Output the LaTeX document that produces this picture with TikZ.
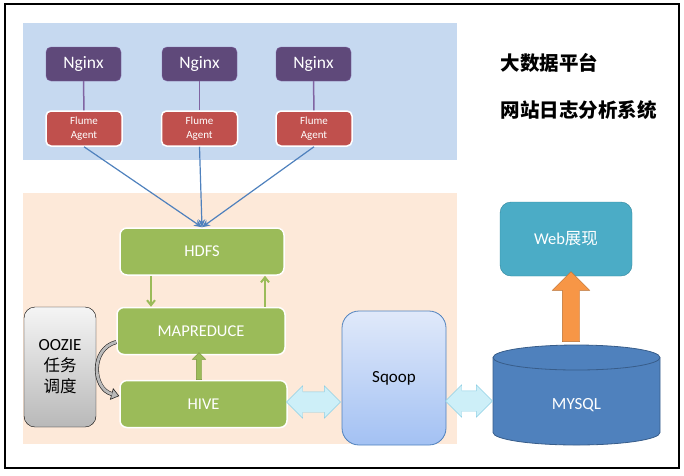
\documentclass[tikz,border=0pt]{standalone}
\usepackage{fontspec}
\setmainfont{Carlito}
\newfontfamily\cjk{Noto Sans CJK SC}
\usetikzlibrary{positioning}
\usetikzlibrary{shapes}
\usetikzlibrary{arrows.meta}
\definecolor{panelblue}{HTML}{C6D9F0}
\definecolor{panelpeach}{HTML}{FDE9D9}
\definecolor{nginxfill}{HTML}{5F497A}
\definecolor{nginxline}{HTML}{8064A2}
\definecolor{flumefill}{HTML}{C0504D}
\definecolor{hadoopfill}{HTML}{9BBB59}
\definecolor{hadoopline}{HTML}{77933C}
\definecolor{flowblue}{HTML}{4F81BD}
\definecolor{dbline}{HTML}{385D8A}
\definecolor{webfill}{HTML}{4BACC6}
\definecolor{webline}{HTML}{31859C}
\definecolor{pushfill}{HTML}{F79646}
\definecolor{pushline}{HTML}{B66D31}
\definecolor{syncfill}{HTML}{CDEFF8}
\definecolor{syncline}{HTML}{8DCFE4}

\begin{document}
\begin{tikzpicture}[
    x=1pt, y=-1pt,
    font=\fontsize{16.5}{19}\selectfont
]
\tikzset{
    nginxbox/.style = {rectangle, rounded corners=5pt, draw=nginxline, fill=nginxfill, text=white, minimum width=75pt, minimum height=34pt, font=\fontsize{17.5}{19}\selectfont},
    flumebox/.style = {rectangle, rounded corners=5pt, draw=white, line width=1.5pt, fill=flumefill, text=white, align=center, minimum width=76pt, minimum height=35pt, inner sep=1pt, font=\fontsize{11}{13.5}\selectfont},
    hadoopbox/.style = {rectangle, rounded corners=7pt, draw=white, line width=1.5pt, fill=hadoopfill, text=white, minimum height=47pt},
    ooziebox/.style = {rectangle, rounded corners=11pt, draw=black, top color=gray!8, bottom color=gray!55, align=center, minimum width=72pt, minimum height=120pt, font=\fontsize{17}{21}\selectfont},
    sqoopbox/.style = {rectangle, rounded corners=17pt, draw=flowblue, thick, top color={rgb,255:red,224;green,233;blue,250}, bottom color={rgb,255:red,163;green,193;blue,243}, minimum width=104pt, minimum height=134pt, font=\fontsize{17}{19}\selectfont},
    webbox/.style = {rectangle, rounded corners=11pt, draw=webline, fill=webfill, text=white, minimum width=132pt, minimum height=74pt},
    dbnode/.style = {text=white, font=\fontsize{17}{19}\selectfont},
    dbshape/.style = {draw=dbline, thick, fill=flowblue},
    title/.style = {anchor=west, font=\cjk\bfseries\fontsize{19.5}{22}\selectfont},
    syncarrow/.style = {double arrow, draw=syncline, fill=syncfill, inner xsep=0pt, inner ysep=10pt, double arrow head extend=6pt, minimum height=54pt},
    pusharrow/.style = {single arrow, draw=pushline, fill=pushfill, rotate=90, inner xsep=0pt, inner ysep=8.5pt, single arrow head extend=10pt, minimum height=70pt},
    callarrow/.style = {single arrow, draw=hadoopline, fill=hadoopfill, rotate=90, inner xsep=0pt, inner ysep=2.5pt, single arrow head extend=4pt, minimum height=27pt},
    pipe/.style = {nginxline, line width=1.5pt},
    edgeb/.style = {-{Stealth[length=8pt,width=7pt]}, flowblue, line width=1.2pt},
    edgeg/.style = {-{Straight Barb[length=5pt,width=8pt]}, hadoopfill, line width=2pt}
}
\useasboundingbox (0,0) rectangle (684,475);
\draw[black, line width=1.2pt] (5,4) rectangle (679,468);
\fill[panelblue] (23,23) rectangle (457,160);
\fill[panelpeach] (23,193) rectangle (457,444);

\node[title] at (497,63) (t1) {大数据平台};
\node[title] at (497,110) (t2) {网站日志分析系统};

\node[nginxbox] at (83.5,64) (n1) {Nginx};
\node[nginxbox] at (199.5,64) (n2) {Nginx};
\node[nginxbox] at (313.5,64) (n3) {Nginx};
\node[flumebox] at (84,128.5) (f1) {Flume\\Agent};
\node[flumebox] at (199.5,128.5) (f2) {Flume\\Agent};
\node[flumebox] at (314,128.5) (f3) {Flume\\Agent};
\foreach \i in {1,2,3} {
    \draw[pipe] (n\i) -- (f\i);
}

\node[hadoopbox, minimum width=164pt] at (202,251.5) (hdfs) {HDFS};
\node[hadoopbox, minimum width=168pt] at (201,331) (mapred) {MAPREDUCE};
\node[hadoopbox, minimum width=167pt] at (203.5,404) (hive) {HIVE};
\foreach \i in {1,2,3} {
    \draw[edgeb] (f\i.south) -- (hdfs.north);
}
\draw[edgeg] ([xshift=-51pt]hdfs.south) -- ([xshift=-51pt]hdfs.south |- mapred.north);
\draw[edgeg] ([xshift=64pt]mapred.north) -- ([xshift=64pt]mapred.north |- hdfs.south);
\node[callarrow] at (199,367.5) (hm) {};

\node[ooziebox] at (60,367) (oozie) {OOZIE\\{\cjk\fontsize{16.5}{21}\selectfont 任务}\\{\cjk\fontsize{16.5}{21}\selectfont 调度}};
\draw[line width=4pt, black!85, -{Triangle[line width=0.6pt, fill=gray!55, length=8pt, width=12pt]}]
    ([yshift=-11pt]mapred.west) to[out=195, in=165, looseness=1.3] ([yshift=8pt]hive.west);
\draw[line width=2.8pt, gray!55, shorten >=7.5pt]
    ([yshift=-11pt]mapred.west) to[out=195, in=165, looseness=1.3] ([yshift=8pt]hive.west);

\node[sqoopbox] at (394,378) (sqoop) {Sqoop};
% cylinder
\filldraw[dbshape] (493,357.5) -- (493,432.5)
    arc[start angle=180, end angle=0, x radius=83.5, y radius=12.5] -- (660,357.5)
    arc[start angle=0, end angle=-180, x radius=83.5, y radius=12.5] -- cycle;
\draw[dbshape, fill=none] (493,357.5) arc[start angle=180, end angle=0, x radius=83.5, y radius=12.5];
\node[dbnode] at (576.5,405) (mysql) {MYSQL};
\node[webbox] at (566,239) (web) {Web{\cjk 展现}};
\node[syncarrow] at (313.5,402) (hs) {};
\node[syncarrow, minimum height=47pt] at (469,401) (sm) {};
\node[pusharrow] at (571,311) (mw) {};
\end{tikzpicture}
\end{document}
